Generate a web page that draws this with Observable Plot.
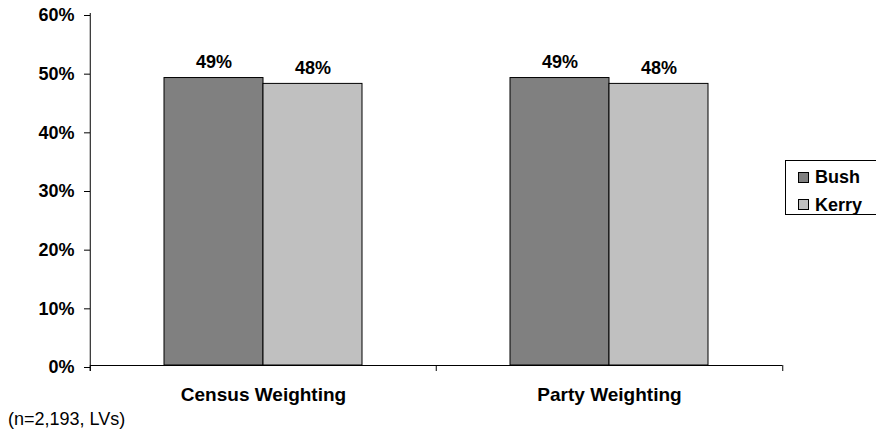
<!DOCTYPE html>
<html>
<head>
<meta charset="utf-8">
<script src="https://cdn.jsdelivr.net/npm/d3@7"></script>
<script src="https://cdn.jsdelivr.net/npm/@observablehq/plot@0.6"></script>
<style>
  html, body { margin: 0; padding: 0; background: #fff; overflow: hidden; }
  body { width: 876px; height: 435px; position: relative; font-family: "Liberation Sans", Arial, sans-serif; }
  #chart svg { display: block; }
  .note { position: absolute; left: 8px; top: 409px; font-size: 18px; line-height: 20px; color: #000; }
  .legend { position: absolute; left: 785px; top: 160px; width: 110px; height: 55px;
            border: 1px solid #000; box-sizing: border-box; background: #fff; }
  .legend .item { position: absolute; left: 12px; height: 20px; font-size: 18px; font-weight: bold;
                  line-height: 20px; display: flex; align-items: center; }
  .legend .swatch { width: 9px; height: 9px; border: 1px solid #000; margin-right: 6px; }
</style>
</head>
<body>
<div id="chart"></div>
<script>
// Likely-voter preference under two weighting schemes
const weightings = ["Census Weighting", "Party Weighting"];
const candidates = ["Bush", "Kerry"];
const bushValues = [49, 49];
const kerryValues = [48, 48];
const candidateColors = ["#808080", "#c0c0c0"];
const yTicks = [0, 10, 20, 30, 40, 50, 60];
const note = "(n=2,193, LVs)";

const rows = weightings.flatMap((w, i) => [
  {weighting: w, candidate: candidates[0], value: bushValues[i]},
  {weighting: w, candidate: candidates[1], value: kerryValues[i]}
]);

const width = 876, height = 410;
const marginLeft = 89, marginRight = 94, marginTop = 13, marginBottom = 45;
const facetWidth = (width - marginLeft - marginRight) / weightings.length;
const font = '"Liberation Sans", Arial, sans-serif';

const chart = Plot.plot({
  width, height, marginLeft, marginRight, marginTop, marginBottom,
  style: {fontFamily: font, fontSize: "18px", fontWeight: "bold", color: "#000", background: "#fff"},
  fx: {domain: weightings, padding: 0, label: null},
  x: {domain: candidates, paddingInner: 0, paddingOuter: 0.741, axis: null},
  y: {domain: [0, 60], axis: null},
  color: {domain: candidates, range: candidateColors},
  marks: [
    Plot.barY(rows, {fx: "weighting", x: "candidate", y: "value", fill: "candidate", stroke: "#000", strokeWidth: 1}),
    Plot.text(rows, {fx: "weighting", x: "candidate", y: "value", text: d => `${d.value}%`,
                     lineAnchor: "bottom", dy: -10, fontSize: 18, fontWeight: "bold"}),
    // value axis line, carried a few pixels below the baseline
    Plot.ruleX(weightings.slice(0, 1), {fx: d => d, x: null, y1: 60, y2: 0, insetBottom: -6, dx: -facetWidth / 2, stroke: "#000"}),
    // category axis with ticks between the groups
    Plot.ruleY([0], {stroke: "#000"}),
    Plot.ruleX(weightings, {fx: d => d, x: null, y1: 0, y2: 0, insetBottom: -6, dx: -facetWidth / 2, stroke: "#000"}),
    Plot.ruleX(weightings.slice(-1), {fx: d => d, x: null, y1: 0, y2: 0, insetBottom: -6, dx: facetWidth / 2, stroke: "#000"}),
    Plot.axisY({ticks: yTicks, tickFormat: d => `${d}%`, tickSize: 6, tickPadding: 10, dy: 2,
                fontSize: 18, fontWeight: "bold", label: null}),
    Plot.axisFx({anchor: "bottom", tickSize: 0, tickPadding: 22, fontSize: 19, fontWeight: "bold", label: null})
  ]
});
document.getElementById("chart").appendChild(chart);

// legend built from the plot's own color scale
const color = chart.scale("color");
const legend = d3.select("body").append("div").attr("class", "legend");
color.domain.forEach((name, i) => {
  const item = legend.append("div").attr("class", "item").style("top", `${6 + i * 27.5}px`);
  item.append("div").attr("class", "swatch").style("background", color.range[i]);
  item.append("span").text(name);
});

d3.select("body").append("div").attr("class", "note").text(note);
</script>
</body>
</html>
